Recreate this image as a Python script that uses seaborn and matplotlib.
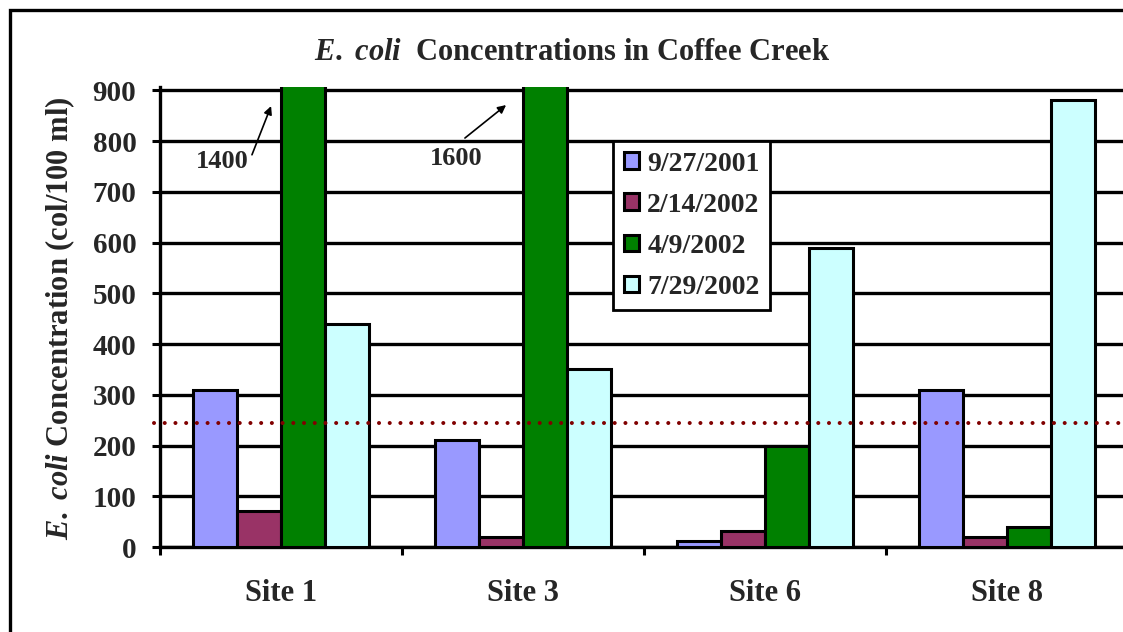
import matplotlib
matplotlib.use('Agg')
import matplotlib.pyplot as plt
import seaborn as sns
import pandas as pd
from matplotlib.patches import Rectangle

# ---- data ----
sites = ['Site 1', 'Site 3', 'Site 6', 'Site 8']
dates = ['9/27/2001', '2/14/2002', '4/9/2002', '7/29/2002']
v_2001_09_27 = [310, 210, 12, 310]
v_2002_02_14 = [70, 20, 32, 20]
v_2002_04_09 = [1400, 1600, 200, 40]
v_2002_07_29 = [440, 350, 590, 880]
colors = ['#9999FF', '#993366', '#008000', '#CCFFFF']
standard = 245
yticks = [0, 100, 200, 300, 400, 500, 600, 700, 800, 900]
callouts = ['1400', '1600']

series = [v_2001_09_27, v_2002_02_14, v_2002_04_09, v_2002_07_29]
rows = []
for d, vals in zip(dates, series):
    for s, v in zip(sites, vals):
        rows.append({'site': s, 'date': d, 'value': v})
df = pd.DataFrame(rows)

sns.set_theme(style='white')
plt.rcParams['font.family'] = ['Liberation Serif', 'DejaVu Serif']
plt.rcParams['font.weight'] = 'bold'
plt.rcParams['mathtext.fontset'] = 'custom'
plt.rcParams['mathtext.rm'] = 'Liberation Serif:bold'
plt.rcParams['mathtext.it'] = 'Liberation Serif:italic:bold'
plt.rcParams['mathtext.bf'] = 'Liberation Serif:bold'

W, H = 1123, 632
fig = plt.figure(figsize=(W / 100, H / 100), dpi=100)
fig.patch.set_facecolor('white')
ax = fig.add_axes([160 / W, 85 / H, 968 / W, 459.7 / H])

lw = 2.2
sns.barplot(data=df, x='site', y='value', hue='date', hue_order=dates,
            order=sites, palette=colors, saturation=1, width=0.73,
            edgecolor='black', linewidth=lw, errorbar=None, ax=ax, zorder=3)

ax.set_ylim(0, 906)
ax.set_xlim(-0.5, 3.5)
ax.set_yticks(yticks)
ax.set_yticklabels([str(t) for t in yticks], fontsize=21, fontweight='bold')
ax.set_xlabel('')
ax.set_ylabel('')
ax.set_axisbelow(True)
ax.yaxis.grid(True, color='black', linewidth=2.4)
ax.xaxis.grid(False)
for side in ['top', 'right']:
    ax.spines[side].set_visible(False)
for side in ['left', 'bottom']:
    ax.spines[side].set_color('black')
    ax.spines[side].set_linewidth(2.4)
ax.tick_params(axis='y', direction='out', length=6, width=2.2, color='black',
               pad=11, left=True)
ax.set_xticks(range(len(sites)))
ax.set_xticklabels(sites, fontsize=22, fontweight='bold')
ax.set_xticks([i - 0.5 for i in range(len(sites) + 1)], minor=True)
ax.tick_params(axis='x', which='major', length=0, pad=23)
ax.tick_params(axis='x', which='minor', direction='out', length=6, width=2.2,
               color='black', bottom=True)

# standard line
ax.axhline(standard, xmin=-0.006, xmax=1, color='#800000', linewidth=2.9,
           linestyle=(0, (0.01, 2.65)), dash_capstyle='round', zorder=5,
           clip_on=False)

# legend
handles, labels = ax.get_legend_handles_labels()
leg = ax.legend(handles, labels, loc='upper left',
                bbox_to_anchor=((613 - 160) / 968, (547 - 141) / 459.7),
                borderaxespad=0, frameon=True, fancybox=False, framealpha=1,
                edgecolor='black', handlelength=0.55,
                handleheight=0.55, handletextpad=0.3, labelspacing=0.58,
                borderpad=0.38, prop={'weight': 'bold', 'size': 20})
leg.get_frame().set_linewidth(2.0)
leg.set_zorder(10)

# callouts for off-scale bars
ax.text(-0.244, 759, callouts[0], ha='center', va='center', fontsize=19,
        fontweight='bold', zorder=6)
ax.annotate('', xy=(-0.041, 869), xytext=(-0.120, 773),
            arrowprops=dict(arrowstyle='-|>', color='black', lw=1.2,
                            mutation_scale=12, shrinkA=0, shrinkB=0), zorder=6)
ax.text(0.723, 765, callouts[1], ha='center', va='center', fontsize=19,
        fontweight='bold', zorder=6)
ax.annotate('', xy=(0.930, 871), xytext=(0.760, 806),
            arrowprops=dict(arrowstyle='-|>', color='black', lw=1.2,
                            mutation_scale=12, shrinkA=0, shrinkB=0), zorder=6)

# y label
ax.text(-0.103, 0.497, r'$\mathit{E.}$ $\mathit{coli}$ Concentration (col/100 ml)',
        rotation=90, transform=ax.transAxes, ha='center', va='center',
        fontsize=22, fontweight='bold')

# title
fig.text(572 / W, 1 - 52 / H, r'$\mathit{E.}$ $\mathit{coli}$  Concentrations in Coffee Creek',
         ha='center', va='center', fontsize=22, fontweight='bold')

# outer border (right and bottom edges run off the picture)
fig.patches.append(Rectangle((10 / W, -0.2), 1.5, 1.2 - 10 / H, fill=False,
                             edgecolor='black', linewidth=2.4,
                             transform=fig.transFigure, figure=fig))

fig.savefig('out.png', dpi=100, facecolor='white')
